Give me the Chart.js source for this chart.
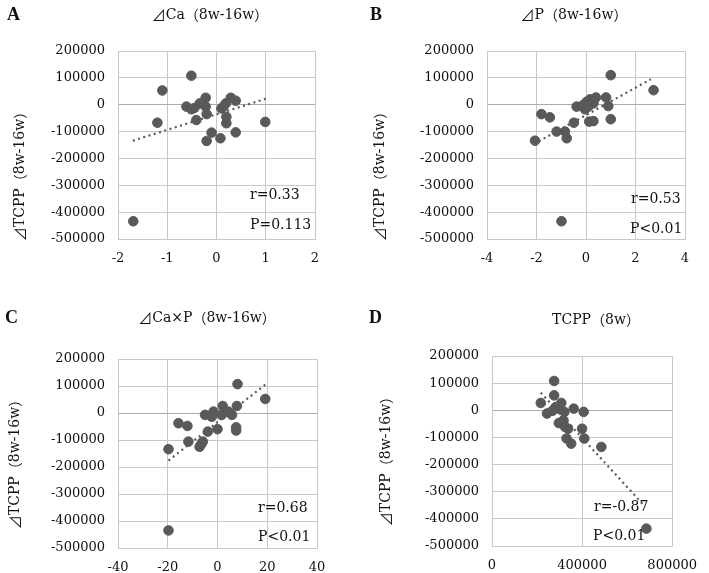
<!DOCTYPE html>
<html>
<head>
<meta charset="utf-8">
<script src="https://cdn.jsdelivr.net/npm/chart.js@4/dist/chart.umd.min.js"></script>
<style>
  body { margin: 0; background: #fff; }
  #wrap { position: relative; width: 709px; height: 573px; }
  .panel { position: absolute; }
</style>
</head>
<body>
<div id="wrap">
  <div class="panel" style="left:0;top:0"><canvas id="cA" width="354" height="286"></canvas></div>
  <div class="panel" style="left:354px;top:0"><canvas id="cB" width="355" height="286"></canvas></div>
  <div class="panel" style="left:0;top:286px"><canvas id="cC" width="354" height="287"></canvas></div>
  <div class="panel" style="left:354px;top:286px"><canvas id="cD" width="355" height="287"></canvas></div>
</div>
<script>
// --- data ---
const yTicks = [-500000, -400000, -300000, -200000, -100000, 0, 100000, 200000];

// A: dCa (8w-16w) vs dTCPP
const caX = [-0.51, -1.1, -1.2, -1.69, -0.61, -0.51, -0.34, -0.22, -0.22, -0.2, -0.41, -0.1, -0.2, 0.08, 0.1, 0.19, 0.29, 0.39, 0.2, 0.2, 0.39, 0.99, -0.45, 0.15];
const caY = [108000, 53000, -67000, -434000, -7000, -17000, 5000, 26000, -7000, -35000, -57000, -104000, -135000, -125000, -14000, 5000, 26000, 15000, -45000, -69000, -103000, -64000, -12000, -5000];
const caTrendX = [-1.7, 1.0];
const caTrendY = [-134000, 22000];

// B: dP (8w-16w) vs dTCPP
const pX = [1.0, -1.8, -1.46, -2.06, -1.19, -0.85, -0.78, -0.49, -0.38, -0.11, 0.03, 0.16, 0.4, 0.3, -0.04, 0.13, 0.3, 0.81, 0.9, 1.0, 2.73, -0.99, 0.08, 0.22];
const pY = [110000, -35000, -47000, -134000, -100000, -100000, -125000, -67000, -7000, -1000, 11000, 20000, 27000, 5000, -17000, -63000, -61000, 27000, -5000, -54000, 54000, -434000, -8000, 12000];
const pTrendX = [-2.1, 2.62];
const pTrendY = [-146000, 95000];

// C: dCa x P (8w-16w) vs dTCPP
const caPX = [8.05, 19.2, -15.7, -12.1, -19.7, -11.7, -5.9, -7.2, -3.9, 0, -5, -1.6, -2.3, 2.1, 1.7, 4.4, 5.8, 7.8, 7.5, 7.5, -19.7, -6.5];
const caPY = [107000, 52000, -38000, -48000, -134000, -106000, -106000, -125000, -69000, -60000, -7000, 5000, -14000, 26000, -7000, 5000, -7000, 26000, -53000, -65000, -435000, -115000];
const caPTrendX = [-19.7, 19.5];
const caPTrendY = [-176000, 107000];

// D: TCPP (8w) vs dTCPP
const tcppX = [275900, 275900, 216600, 244100, 282800, 307600, 321400, 362800, 406900, 296600, 317200, 324100, 337900, 400000, 331000, 351700, 409700, 485500, 685500, 300000, 268000];
const tcppY = [108000, 55000, 27000, -12000, 12000, 27000, -6000, 6000, -6000, -47000, -37000, -61000, -68000, -68000, -104000, -123000, -104000, -135000, -436000, 5000, -2000];
const tcppTrendX = [216600, 678600];
const tcppTrendY = [65000, -354000];

const dotColor = '#595959';
const gridColor = '#c8c8c8';
const zeroColor = '#aaaaaa';
const serif = 'DejaVu Serif, Liberation Serif, serif';
const cjk = '"Noto Sans CJK JP", sans-serif';

function pts(xs, ys) { return xs.map((x, i) => ({ x: x, y: ys[i] })); }

// draws a label where the ⊿ and full-width brackets use the CJK font
function drawMixed(ctx, text, cx, cy, size) {
  const parts = [];
  for (const ch of text) {
    const wide = /[⊿（）]/.test(ch);
    const f = (wide ? size + 'px ' + cjk : size + 'px ' + serif);
    if (parts.length && parts[parts.length - 1].f === f) parts[parts.length - 1].t += ch;
    else parts.push({ t: ch, f: f });
  }
  let total = 0;
  parts.forEach(pt => { ctx.font = pt.f; pt.w = ctx.measureText(pt.t).width; total += pt.w; });
  let x = cx - total / 2;
  ctx.textAlign = 'left';
  parts.forEach(pt => { ctx.font = pt.f; ctx.fillText(pt.t, x, cy); x += pt.w; });
}

function makePanel(id, p) {
  const canvas = document.getElementById(id);
  const W = canvas.width, H = canvas.height;
  const textPlugin = {
    id: 'texts',
    afterDraw(chart) {
      const ctx = chart.ctx;
      ctx.save();
      ctx.fillStyle = '#111';
      ctx.textBaseline = 'middle';
      // panel letter
      ctx.font = 'bold 18px Liberation Serif, serif';
      ctx.textAlign = 'left';
      ctx.fillText(p.letter, p.letterPos[0], p.letterPos[1]);
      // top title
      drawMixed(ctx, p.title, p.titlePos[0], p.titlePos[1], 14);
      // y title
      ctx.save();
      ctx.translate(p.yTitlePos[0], p.yTitlePos[1]);
      ctx.rotate(-Math.PI / 2);
      drawMixed(ctx, '⊿TCPP（8w-16w）', 0, 0, 14);
      ctx.restore();
      // stats
      ctx.font = '14px ' + serif;
      ctx.textAlign = 'left';
      ctx.fillText(p.rText, p.rPos[0], p.rPos[1]);
      ctx.fillText(p.pText, p.pPos[0], p.pPos[1]);
      ctx.restore();
    }
  };

  new Chart(canvas, {
    type: 'scatter',
    data: {
      datasets: [{
        data: pts(p.xs, p.ys),
        backgroundColor: dotColor,
        borderColor: dotColor,
        pointRadius: 4.8,
        pointHoverRadius: 4.8
      }, {
        type: 'line',
        data: pts(p.trendX, p.trendY),
        borderColor: dotColor,
        borderWidth: 2.2,
        borderDash: [2, 3.5],
        pointRadius: 0,
        fill: false
      }]
    },
    options: {
      responsive: false,
      animation: false,
      events: [],
      layout: { padding: { left: 0, top: p.plot.T, right: W - p.plot.R, bottom: 0 } },
      plugins: { legend: { display: false }, tooltip: { enabled: false } },
      scales: {
        x: {
          type: 'linear',
          min: p.xMin, max: p.xMax,
          afterBuildTicks: s => { s.ticks = p.xTicks.map(v => ({ value: v })); },
          afterFit: s => { s.height = H - p.plot.B; },
          grid: { color: gridColor, drawTicks: false, lineWidth: 1 },
          border: { color: gridColor },
          ticks: { color: '#111', padding: 12, font: { family: serif, size: 13 }, maxRotation: 0, callback: v => String(v) }
        },
        y: {
          type: 'linear',
          min: -500000, max: 200000,
          afterBuildTicks: s => { s.ticks = yTicks.map(v => ({ value: v })); },
          afterFit: s => { s.width = p.plot.L; },
          grid: {
            color: ctx => ctx.tick && ctx.tick.value === 0 ? zeroColor : gridColor,
            drawTicks: false, lineWidth: 1
          },
          border: { color: gridColor },
          ticks: { color: '#111', padding: 13, font: { family: serif, size: 13 }, callback: v => String(v) }
        }
      }
    },
    plugins: [textPlugin]
  });
}

makePanel('cA', {
  xs: caX, ys: caY, trendX: caTrendX, trendY: caTrendY,
  xMin: -2, xMax: 2, xTicks: [-2, -1, 0, 1, 2],
  plot: { L: 118, R: 315, T: 51, B: 239 },
  letter: 'A', letterPos: [7, 15],
  title: '⊿Ca（8w-16w）', titlePos: [210, 15],
  yTitlePos: [20, 173],
  rText: 'r=0.33', rPos: [250, 195],
  pText: 'P=0.113', pPos: [250, 225]
});

makePanel('cB', {
  xs: pX, ys: pY, trendX: pTrendX, trendY: pTrendY,
  xMin: -4, xMax: 4, xTicks: [-4, -2, 0, 2, 4],
  plot: { L: 133, R: 331, T: 51, B: 239 },
  letter: 'B', letterPos: [16, 15],
  title: '⊿P（8w-16w）', titlePos: [220, 15],
  yTitlePos: [26, 173],
  rText: 'r=0.53', rPos: [277, 199],
  pText: 'P<0.01', pPos: [276, 229]
});

makePanel('cC', {
  xs: caPX, ys: caPY, trendX: caPTrendX, trendY: caPTrendY,
  xMin: -40, xMax: 40, xTicks: [-40, -20, 0, 20, 40],
  plot: { L: 118, R: 317, T: 73, B: 262 },
  letter: 'C', letterPos: [5, 32],
  title: '⊿Ca×P（8w-16w）', titlePos: [207, 32],
  yTitlePos: [15, 175],
  rText: 'r=0.68', rPos: [258, 222],
  pText: 'P<0.01', pPos: [258, 251]
});

makePanel('cD', {
  xs: tcppX, ys: tcppY, trendX: tcppTrendX, trendY: tcppTrendY,
  xMin: 0, xMax: 800000, xTicks: [0, 400000, 800000],
  plot: { L: 138, R: 331, T: 70, B: 260 },
  letter: 'D', letterPos: [15, 32],
  title: 'TCPP（8w）', titlePos: [242, 34],
  yTitlePos: [32, 172],
  rText: 'r=-0.87', rPos: [240, 221],
  pText: 'P<0.01', pPos: [239, 250]
});
</script>
</body>
</html>
